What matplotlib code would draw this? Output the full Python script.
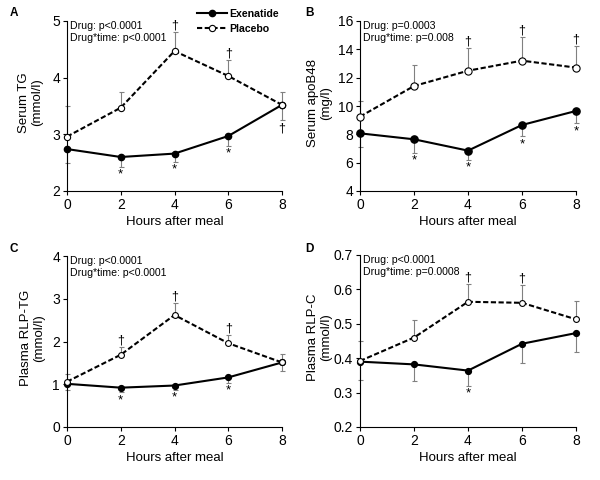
import matplotlib
matplotlib.use('Agg')
import matplotlib.pyplot as plt
import numpy as np

plt.rcParams['font.family'] = ['Liberation Sans', 'DejaVu Sans']

hours = [0, 2, 4, 6, 8]

# A - serum TG (mmol/l)
tg_exe = [2.74, 2.60, 2.66, 2.97, 3.52]
tg_exe_err = [0.25, 0.17, 0.15, 0.18, 0.27]
tg_pla = [2.96, 3.47, 4.47, 4.03, 3.52]
tg_pla_err = [0.54, 0.27, 0.33, 0.28, 0.22]

# B - serum apoB48 (mg/l)
apo_exe = [8.07, 7.65, 6.85, 8.66, 9.65]
apo_exe_err = [0.94, 0.94, 0.64, 0.80, 0.87]
apo_pla = [9.25, 11.41, 12.49, 13.20, 12.71]
apo_pla_err = [1.13, 1.46, 1.63, 1.65, 1.50]

# C - plasma RLP-TG (mmol/l)
rlptg_exe = [1.01, 0.92, 0.97, 1.16, 1.51]
rlptg_exe_err = [0.15, 0.11, 0.11, 0.12, 0.20]
rlptg_pla = [1.06, 1.69, 2.62, 1.96, 1.51]
rlptg_pla_err = [0.18, 0.18, 0.29, 0.19, 0.19]

# D - plasma RLP-C (mmol/l)
rlpc_exe = [0.390, 0.382, 0.364, 0.442, 0.473]
rlpc_exe_err = [0.053, 0.047, 0.044, 0.056, 0.054]
rlpc_pla = [0.392, 0.460, 0.564, 0.561, 0.513]
rlpc_pla_err = [0.058, 0.051, 0.051, 0.052, 0.054]

# significance marks (hours)
tg_dag_up, tg_dag_down, tg_star = [4, 6], [8], [2, 4, 6]
apo_dag_up, apo_dag_down, apo_star = [4, 6, 8], [], [2, 4, 6, 8]
rlptg_dag_up, rlptg_dag_down, rlptg_star = [2, 4, 6], [], [2, 4, 6]
rlpc_dag_up, rlpc_dag_down, rlpc_star = [4, 6], [], [4]

ERR_COLOR = '#808080'


def draw_panel(ax, exe, exe_err, pla, pla_err, yticks, ylabel, stats,
               dag_up, dag_down, star, ms, label_x):
    exe = np.array(exe)
    pla = np.array(pla)
    exe_err = np.array(exe_err)
    pla_err = np.array(pla_err)
    zeros = np.zeros(len(hours))

    for y, err in [(pla, [zeros, pla_err]), (exe, [exe_err, zeros])]:
        eb = ax.errorbar(hours, y, yerr=err, fmt='none', ecolor=ERR_COLOR,
                         elinewidth=0.8, capsize=1.8, capthick=0.8, zorder=2)
        for child in eb.get_children():
            child.set_clip_on(False)

    ax.plot(hours, exe, '-o', color='black', lw=1.5, ms=ms,
            zorder=3, clip_on=False, label='Exenatide')
    ax.plot(hours, pla, linestyle='--', dashes=(2.5, 1.2), color='black',
            lw=1.5, marker='o', ms=ms, mfc='white', mec='black', mew=0.8,
            zorder=4, clip_on=False, label='Placebo')

    for h in dag_up:
        i = hours.index(h)
        ax.annotate('†', (h, pla[i] + pla_err[i]), xytext=(0, 0.3),
                    textcoords='offset points', ha='center', va='bottom',
                    fontsize=9)
    for h in dag_down:
        i = hours.index(h)
        ax.annotate('†', (h, exe[i] - exe_err[i]), xytext=(0, -1.5),
                    textcoords='offset points', ha='center', va='top',
                    fontsize=9)
    for h in star:
        i = hours.index(h)
        ax.annotate('*', (h, exe[i] - exe_err[i]), xytext=(0, -1.2),
                    textcoords='offset points', ha='center', va='top',
                    fontsize=9.5)

    ax.set_xlim(0, 8)
    ax.set_ylim(yticks[0], yticks[-1])
    ax.set_xticks(hours)
    ax.set_yticks(yticks)
    ax.spines[['top', 'right']].set_visible(False)
    for s in ['left', 'bottom']:
        ax.spines[s].set_linewidth(0.8)
    ax.tick_params(direction='out', length=3, width=0.8, labelsize=10, pad=2)
    ax.set_xlabel('Hours after meal', fontsize=9.5, labelpad=3)
    ax.set_ylabel(ylabel, fontsize=9.5, linespacing=1.1)
    ax.yaxis.set_label_coords(label_x, 0.52)
    ax.text(0.012, 1.0, stats, transform=ax.transAxes, ha='left', va='top',
            fontsize=7.6, linespacing=1.2)


fig = plt.figure(figsize=(6, 4.8), dpi=100)

ax_a = fig.add_axes([67 / 600, 1 - 191 / 480, 215 / 600, 170 / 480])
ax_b = fig.add_axes([360 / 600, 1 - 191 / 480, 216 / 600, 170 / 480])
ax_c = fig.add_axes([67 / 600, 1 - 427 / 480, 215 / 600, 171 / 480])
ax_d = fig.add_axes([360 / 600, 1 - 427 / 480, 216 / 600, 172 / 480])

draw_panel(ax_a, tg_exe, tg_exe_err, tg_pla, tg_pla_err, [2, 3, 4, 5],
           'Serum TG\n(mmol/l)', 'Drug: p<0.0001\nDrug*time: p<0.0001',
           tg_dag_up, tg_dag_down, tg_star, 4.5, -0.112)
draw_panel(ax_b, apo_exe, apo_exe_err, apo_pla, apo_pla_err,
           [4, 6, 8, 10, 12, 14, 16],
           'Serum apoB48\n(mg/l)', 'Drug: p=0.0003\nDrug*time: p=0.008',
           apo_dag_up, apo_dag_down, apo_star, 5.2, -0.13)
draw_panel(ax_c, rlptg_exe, rlptg_exe_err, rlptg_pla, rlptg_pla_err,
           [0, 1, 2, 3, 4],
           'Plasma RLP-TG\n(mmol/l)', 'Drug: p<0.0001\nDrug*time: p<0.0001',
           rlptg_dag_up, rlptg_dag_down, rlptg_star, 4.2, -0.102)
draw_panel(ax_d, rlpc_exe, rlpc_exe_err, rlpc_pla, rlpc_pla_err,
           [0.2, 0.3, 0.4, 0.5, 0.6, 0.7],
           'Plasma RLP-C\n(mmol/l)', 'Drug: p<0.0001\nDrug*time: p=0.0008',
           rlpc_dag_up, rlpc_dag_down, rlpc_star, 4.2, -0.13)
ax_d.yaxis.set_major_formatter(matplotlib.ticker.FormatStrFormatter('%.1f'))

handles, labels = ax_a.get_legend_handles_labels()
fig.legend(handles, labels, loc='upper left', bbox_to_anchor=(197 / 600, 1 - 9 / 480),
           frameon=False, borderpad=0, borderaxespad=0, handlelength=2.8,
           handletextpad=0.3, labelspacing=0.45,
           prop={'weight': 'bold', 'size': 7.6})

for letter, x, y in [('A', 10, 13), ('B', 305, 13), ('C', 10, 249), ('D', 305, 249)]:
    fig.text(x / 600, 1 - y / 480, letter, fontweight='bold', fontsize=8.5,
             ha='left', va='center')

fig.savefig('out.png', dpi=100)
